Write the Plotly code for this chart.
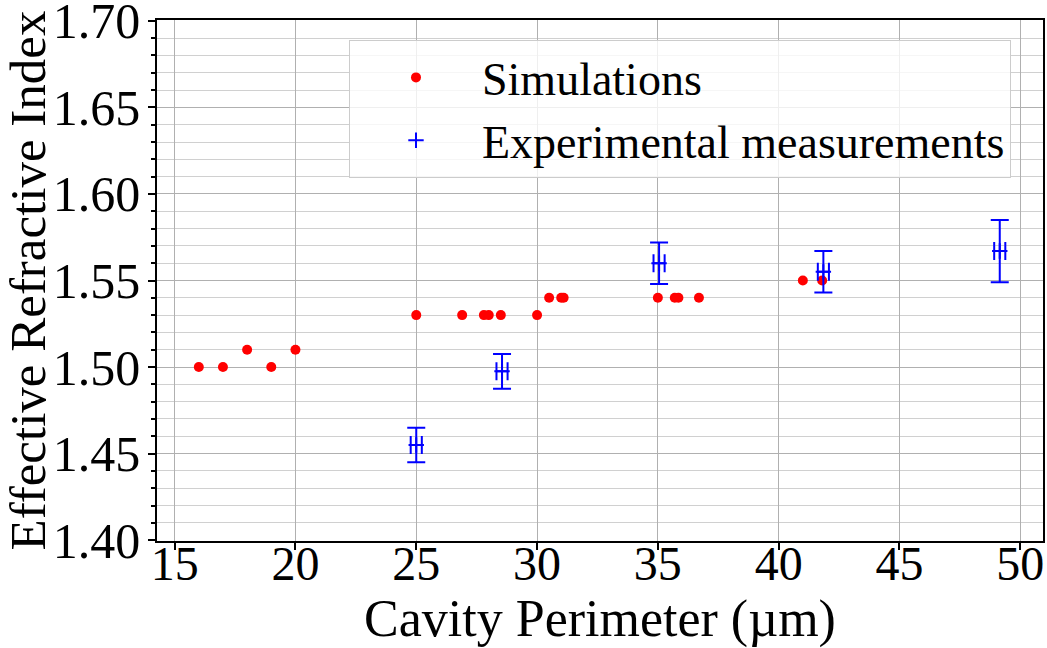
import plotly.graph_objects as go

# Simulated effective index vs cavity perimeter
sim_perimeter = [16, 17, 18, 19, 20, 25, 26.9, 27.8, 28.0, 28.5, 30.0,
                 30.5, 31.0, 31.1, 35.0, 35.7, 35.85, 36.7, 41.0, 41.8]
sim_index = [1.50, 1.50, 1.51, 1.50, 1.51, 1.53, 1.53, 1.53, 1.53, 1.53, 1.53,
             1.54, 1.54, 1.54, 1.54, 1.54, 1.54, 1.54, 1.55, 1.55]

# Measured values with uncertainties
exp_perimeter = [25.0, 28.55, 35.05, 41.85, 49.15]
exp_index = [1.455, 1.4975, 1.560, 1.555, 1.567]
exp_index_err = [0.010, 0.010, 0.012, 0.012, 0.018]
exp_perimeter_err = [0.23, 0.23, 0.23, 0.23, 0.23]

y_ticks = [1.40, 1.45, 1.50, 1.55, 1.60, 1.65, 1.70]
x_ticks = [15, 20, 25, 30, 35, 40, 45, 50]

FONT = "Liberation Serif"

fig = go.Figure()

fig.add_trace(go.Scatter(
    x=sim_perimeter, y=sim_index, mode="markers", name="Simulations",
    marker=dict(color="#ff0000", size=10),
))

fig.add_trace(go.Scatter(
    x=exp_perimeter, y=exp_index, mode="markers",
    name="Experimental measurements",
    marker=dict(symbol="cross-thin", size=11, color="#0000ff",
                line=dict(color="#0000ff", width=2)),
    error_y=dict(type="data", array=exp_index_err, visible=True,
                 color="#0000ff", thickness=2, width=9),
    error_x=dict(type="data", array=exp_perimeter_err, visible=True,
                 color="#0000ff", thickness=2, width=9),
))

fig.update_layout(
    width=1047, height=648,
    margin=dict(l=157, r=4, t=20, b=107, autoexpand=False),
    paper_bgcolor="white", plot_bgcolor="white",
    font=dict(family=FONT, size=47, color="black"),
    showlegend=True,
    legend=dict(
        x=0.2167, y=0.9616, xanchor="left", yanchor="top",
        bgcolor="rgba(255,255,255,0.8)", bordercolor="#cccccc", borderwidth=1,
        font=dict(family=FONT, size=46, color="black"),
        itemsizing="trace", itemwidth=122,
    ),
)

fig.update_xaxes(
    range=[14.27, 50.94],
    tickvals=x_ticks, ticktext=[str(v) for v in x_ticks],
    ticks="outside", ticklen=7, tickwidth=1.5, tickcolor="black",
    ticklabelstandoff=-27, ticklabeloverflow="allow",
    showline=True, linecolor="black", linewidth=1.5, mirror=True,
    showgrid=True, gridcolor="#b0b0b0", gridwidth=1,
    zeroline=False, automargin=False,
    tickfont=dict(family=FONT, size=48),
    title=dict(text="Cavity Perimeter (µm)", font=dict(family=FONT, size=52),
               standoff=0),
)

fig.update_yaxes(
    range=[1.3995, 1.7005],
    tickvals=y_ticks, ticktext=[f"{v:.2f}" for v in y_ticks],
    ticks="outside", ticklen=7, tickwidth=1.5, tickcolor="black",
    ticklabelstandoff=-2, ticklabeloverflow="allow",
    showline=True, linecolor="black", linewidth=1.5, mirror=True,
    showgrid=True, gridcolor="#b0b0b0", gridwidth=1,
    zeroline=False, automargin=False,
    minor=dict(dtick=0.01, tick0=1.40, ticks="outside", ticklen=4,
               tickcolor="black", showgrid=True, gridcolor="#d0d0d0",
               gridwidth=1),
    tickfont=dict(family=FONT, size=50),
    title=dict(text="Effective Refractive Index",
               font=dict(family=FONT, size=51), standoff=0),
)

fig.write_html("out.html")
